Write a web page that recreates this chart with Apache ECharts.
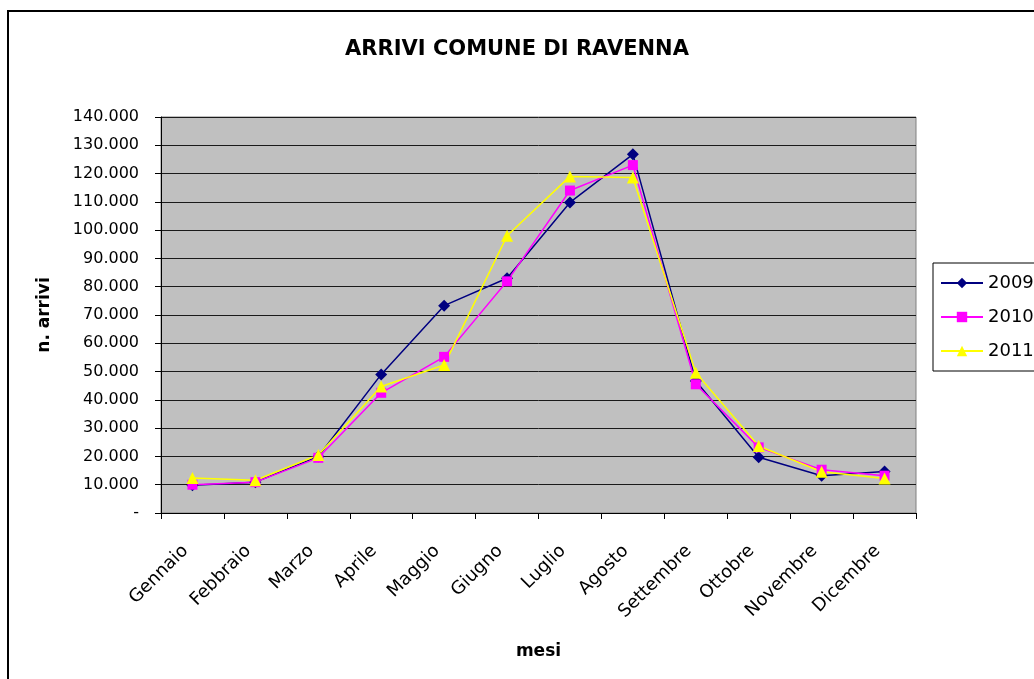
<!DOCTYPE html>
<html>
<head>
<meta charset="utf-8">
<title>Arrivi Comune di Ravenna</title>
<script src="https://cdn.jsdelivr.net/npm/echarts@6/dist/echarts.min.js"></script>
<style>
  html, body { margin: 0; padding: 0; background: #fff; }
  #chart { width: 1034px; height: 679px; }
</style>
</head>
<body>
<div id="chart"></div>
<script>
// mesi
var months = ['Gennaio', 'Febbraio', 'Marzo', 'Aprile', 'Maggio', 'Giugno',
  'Luglio', 'Agosto', 'Settembre', 'Ottobre', 'Novembre', 'Dicembre'];

// arrivi per anno
var arrivi2009 = [9800, 10900, 20000, 49000, 73300, 83000, 109800, 126800, 46700, 19700, 13200, 14700];
var arrivi2010 = [10000, 10900, 19500, 42500, 55200, 81900, 114000, 123000, 45500, 23200, 15300, 13200];
var arrivi2011 = [12400, 11600, 20500, 44700, 52300, 98000, 119000, 118600, 49600, 23700, 14600, 12200];

var years = ['2009', '2010', '2011'];

var font = 'DejaVu Sans';

function fmt (v) {
  if (v === 0) return '-';
  return String(v).replace(/\B(?=(\d{3})+(?!\d))/g, '.');
}

var chart = echarts.init(document.getElementById('chart'));
chart.setOption({
  animation: false,
  backgroundColor: '#fff',
  textStyle: { fontFamily: font },
  graphic: [{
    type: 'rect',
    shape: { x: 8, y: 11, width: 1100, height: 720 },
    style: { fill: 'none', stroke: '#000', lineWidth: 2 },
    silent: true
  }],
  title: {
    text: 'ARRIVI COMUNE DI RAVENNA',
    left: 'center',
    top: 34,
    textStyle: { fontFamily: font, fontSize: 21, fontWeight: 'bold', color: '#000' }
  },
  legend: {
    orient: 'vertical',
    left: 933,
    top: 263,
    padding: [11, 60, 11, 7],
    itemWidth: 42,
    itemHeight: 13,
    itemGap: 16,
    borderColor: '#000',
    borderWidth: 1,
    backgroundColor: '#fff',
    data: years,
    textStyle: { fontFamily: font, fontSize: 18, color: '#000' }
  },
  grid: {
    left: 161,
    right: 118,
    top: 117,
    bottom: 166,
    show: true,
    backgroundColor: '#c0c0c0',
    borderColor: '#808080',
    borderWidth: 1
  },
  xAxis: {
    type: 'category',
    data: months,
    boundaryGap: true,
    name: 'mesi',
    nameLocation: 'middle',
    nameGap: 130,
    nameTextStyle: { fontFamily: font, fontSize: 17, fontWeight: 'bold', color: '#000' },
    axisLine: { lineStyle: { color: '#000', width: 1 } },
    axisTick: { show: true, length: 6, lineStyle: { color: '#000' } },
    axisLabel: {
      rotate: 45, margin: 28, padding: [0, 10, 0, 0],
      fontFamily: font, fontSize: 18, color: '#000', interval: 0
    },
    splitLine: { show: false }
  },
  yAxis: {
    type: 'value',
    min: 0,
    max: 140000,
    interval: 10000,
    name: 'n. arrivi',
    nameLocation: 'middle',
    nameGap: 108,
    nameRotate: 90,
    nameTextStyle: { fontFamily: font, fontSize: 17, fontWeight: 'bold', color: '#000' },
    axisLine: { show: true, lineStyle: { color: '#000', width: 1 } },
    axisTick: { show: true, length: 6, lineStyle: { color: '#000' } },
    axisLabel: { margin: 22, fontFamily: font, fontSize: 16, color: '#000', formatter: fmt },
    splitLine: { show: true, lineStyle: { color: '#1a1a1a', width: 1 } }
  },
  series: [
    {
      name: '2009',
      type: 'line',
      data: arrivi2009,
      symbol: 'diamond',
      symbolSize: 12,
      color: '#000080',
      lineStyle: { width: 1.5, color: '#000080' },
      itemStyle: { color: '#000080' }
    },
    {
      name: '2010',
      type: 'line',
      data: arrivi2010,
      symbol: 'rect',
      symbolSize: 10,
      color: '#ff00ff',
      lineStyle: { width: 1.5, color: '#ff00ff' },
      itemStyle: { color: '#ff00ff' }
    },
    {
      name: '2011',
      type: 'line',
      data: arrivi2011,
      symbol: 'triangle',
      symbolSize: 12,
      color: '#ffff00',
      lineStyle: { width: 1.5, color: '#ffff00' },
      itemStyle: { color: '#ffff00' }
    }
  ]
});
</script>
</body>
</html>
